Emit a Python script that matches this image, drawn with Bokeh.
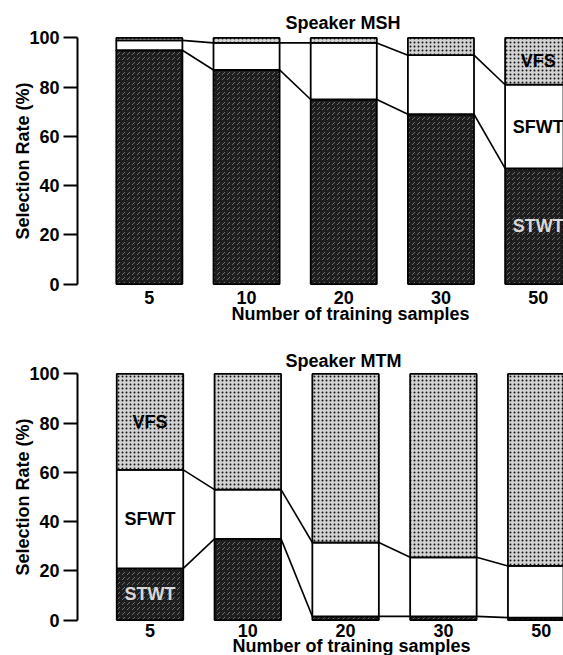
from bokeh.plotting import figure
from bokeh.models import Range1d, FixedTicker, ColumnDataSource, Title
from bokeh.layouts import column
from bokeh.embed import file_html
from bokeh.resources import INLINE
from bokeh.core.properties import value

# ---- data ----
samples = ["5", "10", "20", "30", "50"]
layers = ["STWT", "SFWT", "VFS"]

msh_stwt = [95, 87, 75, 69, 47]
msh_sfwt = [4, 11, 23, 24, 34]
msh_vfs = [1, 2, 2, 7, 19]

mtm_stwt = [21, 33, 1.5, 1.5, 1]
mtm_sfwt = [40, 20, 30, 24, 21]
mtm_vfs = [39, 47, 68.5, 74.5, 78]

FONT = "Liberation Sans"
BAR_W = 0.68
W = 563


def make_chart(title, stwt, sfwt, vfs, label_bar, frame_left, c0, dx,
               height, b_top, b_bottom, title_offset, title_standoff,
               tick_standoff, xlab_offset, xlab_standoff):
    n = len(samples)
    xs = list(range(n))
    x_start = (frame_left - c0) / dx
    x_end = (W - c0) / dx
    p = figure(width=W, height=height, output_backend="svg",
               toolbar_location=None, x_range=Range1d(x_start, x_end),
               y_range=Range1d(-1, 101),
               min_border_left=frame_left, min_border_right=0,
               min_border_top=b_top, min_border_bottom=b_bottom)
    p.title = Title(text=title, align="left", offset=title_offset,
                    text_font=FONT, text_font_size="18px",
                    text_font_style="bold", text_color="black",
                    standoff=title_standoff)
    p.outline_line_color = None
    p.xgrid.visible = False
    p.ygrid.visible = False

    s1 = stwt
    s2 = [a + b for a, b in zip(stwt, sfwt)]
    s3 = [a + b for a, b in zip(s2, vfs)]
    src = ColumnDataSource(dict(x=xs, b0=[0] * n, s1=s1, s2=s2, s3=s3))

    p.vbar(x="x", width=BAR_W, bottom="b0", top="s1", source=src,
           fill_color="#1e1e1e", line_color="black", line_width=1.8,
           hatch_pattern="right_diagonal_dash", hatch_color="#9a9a9a",
           hatch_scale=5, hatch_weight=0.8, hatch_alpha=0.8)
    p.vbar(x="x", width=BAR_W, bottom="s1", top="s2", source=src,
           fill_color="white", line_color="black", line_width=1.8)
    p.vbar(x="x", width=BAR_W, bottom="s2", top="s3", source=src,
           fill_color="#d2d2d2", line_color="black", line_width=1.8,
           hatch_pattern="dot", hatch_color="#141414", hatch_scale=4,
           hatch_weight=3.5)

    # connecting lines between bars
    lx, ly = [], []
    for bound in (s1, s2):
        for i in range(n - 1):
            lx.append([xs[i] + BAR_W / 2, xs[i + 1] - BAR_W / 2])
            ly.append([bound[i], bound[i + 1]])
    p.multi_line(lx, ly, line_color="black", line_width=1.6)

    # segment labels inside one bar
    k = label_bar
    mids = [s1[k] / 2, (s1[k] + s2[k]) / 2, (s2[k] + s3[k]) / 2]
    p.text(x=[k] * 3, y=mids, text=layers,
           text_color=["#d8d8d8", "black", "black"],
           text_font=value(FONT), text_font_size="18px",
           text_font_style="bold", text_align="center",
           text_baseline="middle")

    # axes
    ya = p.yaxis[0]
    ya.ticker = FixedTicker(ticks=[0, 20, 40, 60, 80, 100])
    ya.bounds = (0, 100)
    ya.axis_line_width = 2
    ya.major_tick_line_width = 2
    ya.major_tick_out = 14
    ya.major_tick_in = 0
    ya.minor_tick_line_color = None
    ya.major_label_standoff = 4
    ya.major_label_text_font = FONT
    ya.major_label_text_font_size = "18px"
    ya.major_label_text_font_style = "bold"
    ya.major_label_text_color = "black"
    ya.axis_label = "Selection Rate (%)"
    ya.axis_label_text_font = FONT
    ya.axis_label_text_font_size = "18px"
    ya.axis_label_text_font_style = "bold"
    ya.axis_label_text_color = "black"
    ya.axis_label_standoff = -7

    xa = p.xaxis[0]
    xa.ticker = FixedTicker(ticks=xs)
    xa.major_label_overrides = {i: s for i, s in enumerate(samples)}
    xa.axis_line_color = None
    xa.major_tick_line_color = None
    xa.minor_tick_line_color = None
    xa.major_tick_out = 0
    xa.major_label_standoff = tick_standoff
    xa.major_label_text_font = FONT
    xa.major_label_text_font_size = "18px"
    xa.major_label_text_font_style = "bold"
    xa.major_label_text_color = "black"

    p.add_layout(Title(text="Number of training samples", align="left",
                       offset=xlab_offset, vertical_align="top",
                       standoff=xlab_standoff, text_font=FONT,
                       text_font_size="18px", text_font_style="bold",
                       text_color="black"), "below")
    return p


top = make_chart("Speaker MSH", msh_stwt, msh_sfwt, msh_vfs, 4,
                 frame_left=76, c0=148, dx=97.4, height=330, b_top=35,
                 b_bottom=44, title_offset=208, title_standoff=6,
                 tick_standoff=4, xlab_offset=154, xlab_standoff=-5)
bottom = make_chart("Speaker MTM", mtm_stwt, mtm_sfwt, mtm_vfs, 0,
                    frame_left=77, c0=149.5, dx=97.8, height=325, b_top=41,
                    b_bottom=33, title_offset=208, title_standoff=1,
                    tick_standoff=1, xlab_offset=155, xlab_standoff=-7)

layout = column(top, bottom, spacing=0)
open("out.html", "w").write(file_html(layout, INLINE))
